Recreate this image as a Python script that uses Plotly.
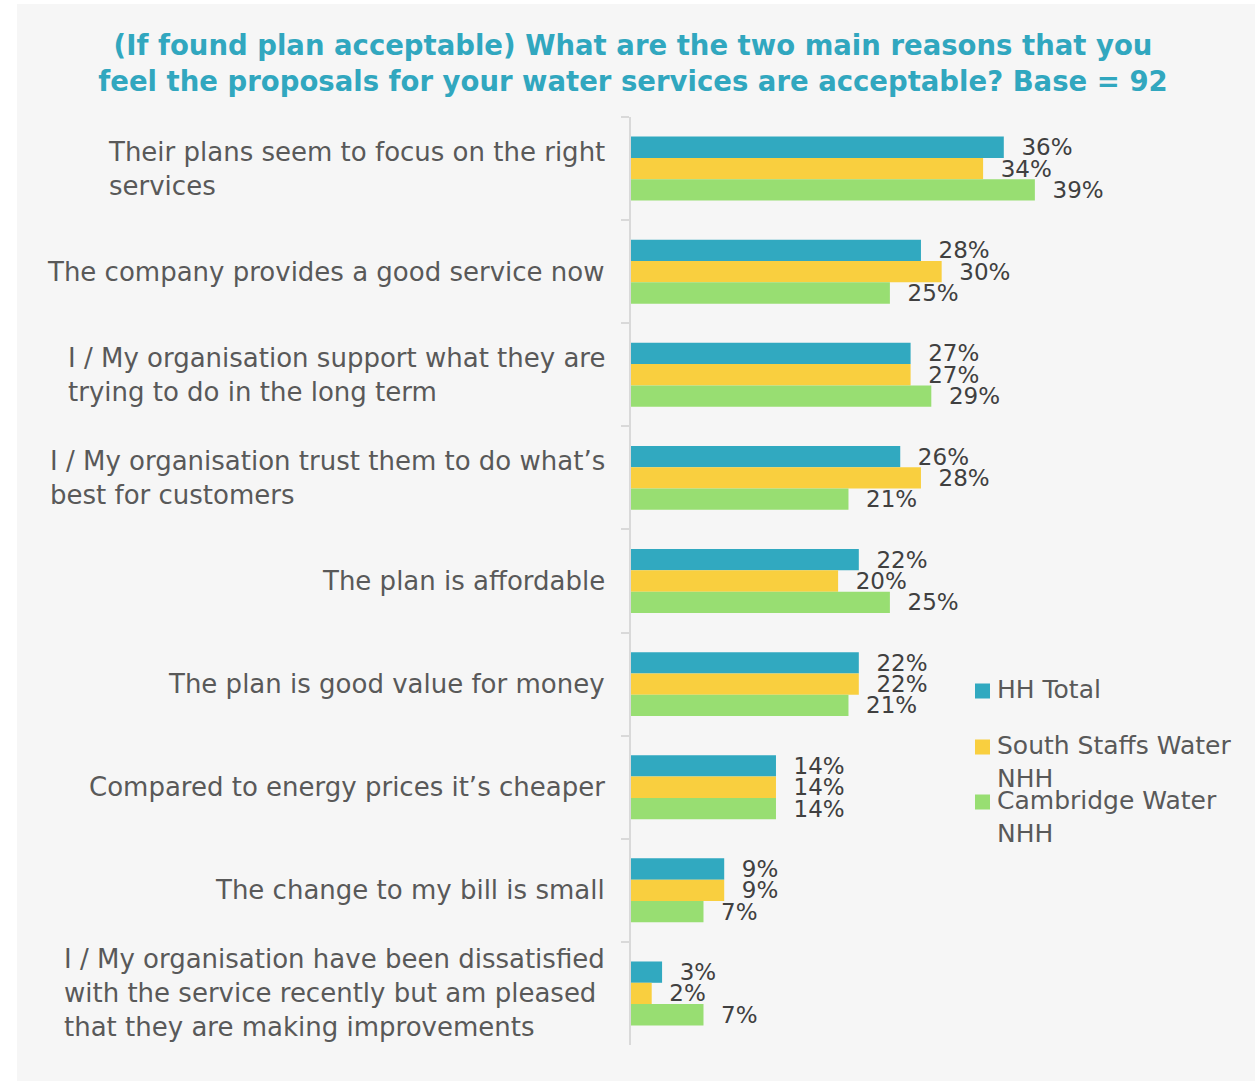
import plotly.graph_objects as go

# Survey reasons (top to bottom)
categories = [
    "Their plans seem to focus on the right<br>services",
    "The company provides a good service now",
    "I / My organisation support what they are<br>trying to do in the long term",
    "I / My organisation trust them to do what\u2019s<br>best for customers",
    "The plan is affordable",
    "The plan is good value for money",
    "Compared to energy prices it\u2019s cheaper",
    "The change to my bill is small",
    "I / My organisation have been dissatisfied<br>with the service recently but am pleased<br>that they are making improvements",
]

series_names = ["HH Total", "South Staffs Water<br>NHH", "Cambridge Water<br>NHH"]
hh_total = [36, 28, 27, 26, 22, 22, 14, 9, 3]
south_staffs = [34, 30, 27, 28, 20, 22, 14, 9, 2]
cambridge = [39, 25, 29, 21, 25, 21, 14, 7, 7]
series_values = [hh_total, south_staffs, cambridge]
series_colors = ["#31a9c0", "#f9cf3f", "#98de72"]

W, H = 1255, 1081
L, R, T, B = 631, 158, 117, 36
PW, PH = W - L - R, H - T - B

FONT = "DejaVu Sans"
LABEL_GREY = "#595959"
VALUE_GREY = "#404040"
PANEL = "#f6f6f6"


def px_x(px):
    return (px - L) / PW


def px_y(py):
    return (H - B - py) / PH


fig = go.Figure()
for name, vals, col in zip(series_names, series_values, series_colors):
    fig.add_trace(go.Bar(
        y=categories, x=vals, orientation="h", name=name,
        marker=dict(color=col, line=dict(width=0)),
        text=vals, texttemplate="\u00a0\u00a0%{x}%", textposition="outside",
        textfont=dict(family=FONT, size=23, color=VALUE_GREY),
        constraintext="none", cliponaxis=False, showlegend=False,
    ))

# category labels: right-aligned block, lines left-aligned
annotations = []
for cat in categories:
    annotations.append(dict(
        x=0, xref="x domain", y=cat, yref="y", xanchor="right", yanchor="middle",
        xshift=-24, text=cat, align="left", showarrow=False,
        font=dict(family=FONT, size=26, color=LABEL_GREY),
    ))

# legend drawn as swatches + text
shapes = [
    # white page strip around the grey panel
    dict(type="rect", xref="paper", yref="paper", x0=px_x(0), x1=px_x(17), y0=px_y(H), y1=px_y(0),
         fillcolor="white", line=dict(width=0), layer="below"),
    dict(type="rect", xref="paper", yref="paper", x0=px_x(0), x1=px_x(W), y0=px_y(4), y1=px_y(0),
         fillcolor="white", line=dict(width=0), layer="below"),
]
legend_rows = [691, 747, 802]
for name, col, cy in zip(series_names, series_colors, legend_rows):
    shapes.append(dict(type="rect", xref="paper", yref="paper",
                       x0=px_x(975), x1=px_x(990), y0=px_y(cy + 7.5), y1=px_y(cy - 7.5),
                       fillcolor=col, line=dict(width=0)))
    annotations.append(dict(
        x=px_x(995), xref="paper", y=px_y(cy - 18), yref="paper",
        xanchor="left", yanchor="top", text=name, align="left", showarrow=False,
        font=dict(family=FONT, size=25, color=LABEL_GREY),
    ))

fig.update_layout(
    width=W, height=H,
    margin=dict(l=L, r=R, t=T, b=B),
    paper_bgcolor=PANEL, plot_bgcolor=PANEL,
    barmode="group", bargap=0.38, bargroupgap=0,
    title=dict(
        text="(If found plan acceptable) What are the two main reasons that you<br>"
             "feel the proposals for your water services are acceptable? Base = 92",
        x=633 / W, xanchor="center", xref="container",
        y=1 - 55 / H, yanchor="top", yref="container",
        font=dict(family=FONT, size=27.5, color="#31a7bf", weight="bold"),
    ),
    xaxis=dict(range=[0, 45], visible=False, fixedrange=True),
    yaxis=dict(
        type="category", autorange="reversed", showticklabels=False,
        showline=True, linecolor="#d9d9d9", linewidth=2,
        ticks="outside", tickson="boundaries", ticklen=8, tickcolor="#d9d9d9", tickwidth=2,
        showgrid=False, zeroline=False,
    ),
    annotations=annotations, shapes=shapes,
)

fig.write_html("out.html")
